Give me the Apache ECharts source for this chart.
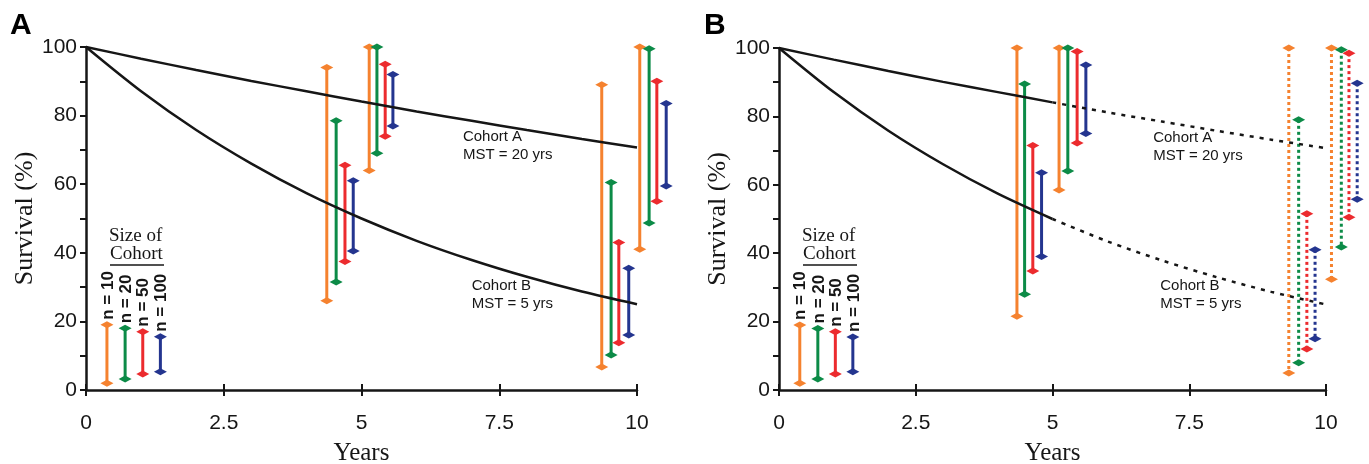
<!doctype html>
<html lang="en">
<head>
<meta charset="utf-8">
<title>Survival by cohort size</title>
<script src="https://cdn.jsdelivr.net/npm/echarts@6/dist/echarts.min.js"></script>
<style>
  html, body { margin: 0; padding: 0; background: #fff; }
  #chart { width: 1369px; height: 464px; }
</style>
</head>
<body>
<div id="chart"></div>
<script>
// survival curves (one point per year)
var years   = [0, 1, 2, 3, 4, 5, 6, 7, 8, 9, 10];
var cohortA = [100, 96.6, 93.3, 90.1, 87.1, 84.1, 81.2, 78.5, 75.8, 73.2, 70.7];
var cohortB = [100, 87.1, 75.8, 66.0, 57.4, 50.0, 43.5, 37.9, 33.0, 28.7, 25.0];

var sizeLabels = ['n = 10', 'n = 20', 'n = 50', 'n = 100'];
var sizeColors = ['#F5822F', '#0C8B47', '#EC2B2E', '#24358F'];

// key bars (bottom left of each panel)
var keyX    = [0.38, 0.71, 1.03, 1.35];
var keyHigh = [19, 18, 17, 15.5];
var keyLow  = [2, 3.2, 4.7, 5.3];

// panel A ranges
var rangeAx    = [4.37, 4.54, 4.70, 4.85, 5.14, 5.28, 5.43, 5.57, 9.36, 9.53, 9.67, 9.85, 10.05, 10.22, 10.36, 10.53];
var rangeAHigh = [94, 78.5, 65.5, 61, 100, 100, 95, 92, 89, 60.5, 43, 35.5, 100, 99.5, 90, 83.5];
var rangeALow  = [26, 31.5, 37.5, 40.5, 64, 69, 74, 77, 6.7, 10.2, 13.8, 16, 41, 48.7, 55, 59.5];

// panel B ranges (last eight are projections, drawn dotted)
var rangeBx    = [4.35, 4.49, 4.64, 4.80, 5.12, 5.28, 5.45, 5.61, 9.32, 9.50, 9.65, 9.80, 10.10, 10.28, 10.42, 10.57];
var rangeBHigh = [100, 89.5, 71.5, 63.5, 100, 100, 99, 95, 100, 79, 51.5, 41, 100, 99.5, 98.5, 89.7];
var rangeBLow  = [21.6, 28, 34.8, 39, 58.5, 64, 72.2, 75, 5, 8, 12, 15, 32.4, 41.8, 50.5, 55.8];

var notes = ['Cohort A\nMST = 20 yrs', 'Cohort B\nMST = 5 yrs'];
var notesAPos = [[6.84, 71.2], [7.0, 27.7]];
var notesBPos = [[6.84, 71.2], [6.97, 27.7]];

var ink = '#161616';
var sans = '"Liberation Sans", Arial, sans-serif';
var serif = '"Liberation Serif", "Times New Roman", serif';

function pairs(xs, ys, from, to) {
  var out = [];
  for (var i = from; i <= to; i++) out.push([xs[i], ys[i]]);
  return out;
}

function rangeData(xs, his, los, dottedFrom) {
  return xs.map(function (x, i) {
    return [x, his[i], los[i], i % 4, i >= dottedFrom ? 1 : 0];
  });
}

function cap(p, col) {
  var w = 6.5, h = 3.5;
  return {
    type: 'polygon',
    shape: { points: [[p[0] - w, p[1]], [p[0], p[1] - h], [p[0] + w, p[1]], [p[0], p[1] + h]] },
    style: { fill: col }
  };
}

function renderRange(params, api) {
  var top = api.coord([api.value(0), api.value(1)]);
  var bot = api.coord([api.value(0), api.value(2)]);
  var col = sizeColors[api.value(3)];
  var dotted = api.value(4) === 1;
  return {
    type: 'group',
    children: [
      {
        type: 'line',
        shape: { x1: top[0], y1: top[1], x2: bot[0], y2: bot[1] },
        style: { stroke: col, lineWidth: 3, lineDash: dotted ? [3, 3] : null }
      },
      cap(top, col),
      cap(bot, col)
    ]
  };
}

function renderKey(params, api) {
  var g = renderRange(params, api);
  var top = api.coord([api.value(0), api.value(1)]);
  g.children.push({
    type: 'text',
    x: top[0] + 1,
    y: top[1] - 5,
    rotation: Math.PI / 2,
    style: {
      text: sizeLabels[api.value(3)],
      font: 'bold 17px ' + sans,
      fill: ink,
      textAlign: 'left',
      textVerticalAlign: 'middle'
    }
  });
  return g;
}

function renderNote(params, api) {
  var p = api.coord([api.value(0), api.value(1)]);
  return {
    type: 'text',
    x: p[0],
    y: p[1],
    style: {
      text: notes[api.value(2)],
      font: '15px ' + sans,
      fill: ink,
      lineHeight: 18,
      textAlign: 'left',
      textVerticalAlign: 'middle'
    }
  };
}

function xAxes(grid) {
  return [
    {
      gridIndex: grid, type: 'value', position: 'bottom', min: 0, max: 10, interval: 2.5,
      name: 'Years', nameLocation: 'middle', nameGap: 51,
      nameTextStyle: { fontFamily: serif, fontSize: 25, color: ink },
      axisLine: { lineStyle: { color: ink, width: 2.5 } },
      axisTick: { length: 6, lineStyle: { color: ink, width: 2 } },
      axisLabel: { margin: 23, fontFamily: sans, fontSize: 21, color: ink },
      splitLine: { show: false }
    },
    {
      // inner half of the crossing ticks
      gridIndex: grid, type: 'value', position: 'bottom', offset: 0, min: 0, max: 10, interval: 2.5,
      axisLine: { show: false },
      axisTick: { inside: true, length: 6, lineStyle: { color: ink, width: 2 } },
      axisLabel: { show: false },
      splitLine: { show: false }
    }
  ];
}

function yAxis(grid) {
  return {
    gridIndex: grid, type: 'value', min: 0, max: 100, interval: 20,
    name: 'Survival (%)', nameLocation: 'middle', nameGap: 47,
    nameTextStyle: { fontFamily: serif, fontSize: 26, color: ink },
    axisLine: { show: true, lineStyle: { color: ink, width: 2.5 } },
    axisTick: { show: true, length: 6, lineStyle: { color: ink, width: 2 } },
    minorTick: { show: true, splitNumber: 2, length: 6, lineStyle: { color: ink, width: 2 } },
    axisLabel: { margin: 9, fontFamily: sans, fontSize: 21, color: ink },
    splitLine: { show: false }
  };
}

function curve(name, xi, yi, data, dashed) {
  return {
    name: name, type: 'line', xAxisIndex: xi, yAxisIndex: yi, data: data,
    smooth: 0.3, showSymbol: false, silent: true,
    lineStyle: { color: ink, width: 2.5, type: dashed ? [4, 6] : 'solid' }
  };
}

function keyTitle(left) {
  return [
    { type: 'text', left: left, top: 227, style: { text: 'Size of', font: '19px ' + serif, fill: ink } },
    { type: 'text', left: left + 1, top: 245, style: { text: 'Cohort', font: '19px ' + serif, fill: ink } },
    { type: 'line', shape: { x1: left + 1, y1: 265, x2: left + 55, y2: 265 }, style: { stroke: ink, lineWidth: 1.3 } }
  ];
}

var keyData = keyX.map(function (x, i) { return [x, keyHigh[i], keyLow[i], i, 0]; });

var chart = echarts.init(document.getElementById('chart'));
chart.setOption({
  animation: false,
  backgroundColor: '#fff',
  grid: [
    { left: 86, top: 47, width: 551, height: 343, outerBoundsMode: 'none' },
    { left: 779, top: 48, width: 547, height: 342, outerBoundsMode: 'none' }
  ],
  xAxis: xAxes(0).concat(xAxes(1)),
  yAxis: [yAxis(0), yAxis(1)],
  graphic: [
    { type: 'text', left: 10, top: 11, style: { text: 'A', font: 'bold 30px ' + sans, fill: '#000' } },
    { type: 'text', left: 704, top: 11, style: { text: 'B', font: 'bold 30px ' + sans, fill: '#000' } }
  ].concat(keyTitle(109), keyTitle(802)),
  series: [
    curve('Cohort A', 0, 0, pairs(years, cohortA, 0, 10), false),
    curve('Cohort B', 0, 0, pairs(years, cohortB, 0, 10), false),
    curve('Cohort A', 2, 1, pairs(years, cohortA, 0, 5), false),
    curve('Cohort B', 2, 1, pairs(years, cohortB, 0, 5), false),
    curve('Cohort A proj', 2, 1, pairs(years, cohortA, 5, 10), true),
    curve('Cohort B proj', 2, 1, pairs(years, cohortB, 5, 10), true),
    { type: 'custom', xAxisIndex: 0, yAxisIndex: 0, renderItem: renderRange, data: rangeData(rangeAx, rangeAHigh, rangeALow, 99) },
    { type: 'custom', xAxisIndex: 2, yAxisIndex: 1, renderItem: renderRange, data: rangeData(rangeBx, rangeBHigh, rangeBLow, 8) },
    { type: 'custom', xAxisIndex: 0, yAxisIndex: 0, renderItem: renderKey, data: keyData },
    { type: 'custom', xAxisIndex: 2, yAxisIndex: 1, renderItem: renderKey, data: keyData },
    { type: 'custom', xAxisIndex: 0, yAxisIndex: 0, renderItem: renderNote,
      data: notesAPos.map(function (p, i) { return [p[0], p[1], i]; }) },
    { type: 'custom', xAxisIndex: 2, yAxisIndex: 1, renderItem: renderNote,
      data: notesBPos.map(function (p, i) { return [p[0], p[1], i]; }) }
  ]
});
</script>
</body>
</html>
